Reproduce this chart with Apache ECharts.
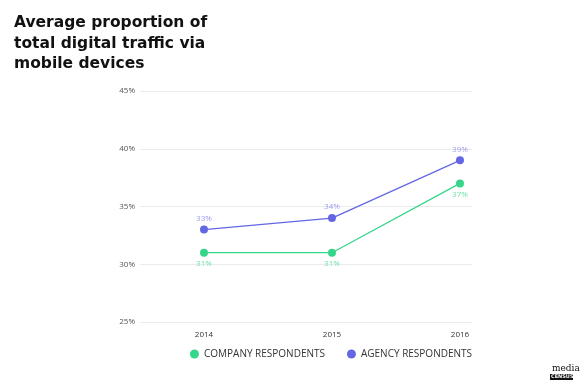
<!DOCTYPE html>
<html><head><meta charset="utf-8">
<script src="https://cdn.jsdelivr.net/npm/echarts@6/dist/echarts.min.js"></script>
<style>html,body{margin:0;padding:0;background:#fff}#c{width:580px;height:385px}</style>
</head><body><div id="c"></div>
<script>
const years = [2014, 2015, 2016];
const company = [31, 31, 37];
const agency = [33, 34, 39];
const yTicks = [25, 30, 35, 40, 45];
const titleText = 'Average proportion of\ntotal digital traffic via\nmobile devices';
const seriesNames = ['COMPANY RESPONDENTS', 'AGENCY RESPONDENTS'];

const chart = echarts.init(document.getElementById('c'));
chart.setOption({
  animation: false,
  backgroundColor: '#fff',
  title: {
    text: titleText, left: 9, top: 8,
    textStyle: { fontFamily: 'DejaVu Sans', fontWeight: 'bold', fontSize: 15.5, lineHeight: 20.5, color: '#111' }
  },
  legend: {
    bottom: 21, right: 103, itemGap: 22, itemWidth: 9, itemHeight: 9, icon: 'circle',
    data: seriesNames,
    textStyle: { fontFamily: 'Open Sans', fontSize: 10, color: '#333' }
  },
  grid: { left: 140, right: 108, top: 91, bottom: 63 },
  xAxis: {
    type: 'value', min: 2013.5, max: 2016.094,
    axisLine: { show: false }, axisTick: { show: false }, splitLine: { show: false },
    axisLabel: { customValues: years, formatter: v => String(v), fontFamily: 'Open Sans', fontSize: 8, color: '#333', margin: 9 }
  },
  yAxis: {
    type: 'value', min: yTicks[0], max: yTicks[yTicks.length - 1], interval: 5,
    axisLine: { show: false }, axisTick: { show: false },
    splitLine: { lineStyle: { color: '#ebebeb', width: 1 } },
    axisLabel: { formatter: '{value}%', fontFamily: 'Open Sans', fontSize: 8, color: '#555', margin: 5 }
  },
  series: [
    {
      name: seriesNames[0], type: 'line', symbol: 'circle', symbolSize: 8,
      data: years.map((y, i) => [y, company[i]]),
      itemStyle: { color: '#36d68a' }, lineStyle: { color: '#36d68a', width: 1.3 },
      label: { show: true, position: 'bottom', distance: 3, formatter: p => p.value[1] + '%', fontFamily: 'Open Sans', fontSize: 8, color: '#6fe3a8' }
    },
    {
      name: seriesNames[1], type: 'line', symbol: 'circle', symbolSize: 8,
      data: years.map((y, i) => [y, agency[i]]),
      itemStyle: { color: '#6467e4' }, lineStyle: { color: '#6467e4', width: 1.3 },
      label: { show: true, position: 'top', distance: 3, formatter: p => p.value[1] + '%', fontFamily: 'Open Sans', fontSize: 8, color: '#9a9cf0' }
    }
  ],
  graphic: [
    { type: 'text', left: 552, top: 364, style: { text: 'media', font: '9px "DejaVu Serif"', fill: '#111' } },
    { type: 'rect', left: 550, top: 374, shape: { width: 23, height: 6 }, style: { fill: '#111' } },
    { type: 'text', left: 551, top: 374, style: { text: 'CENSUS', font: 'bold 5px "DejaVu Sans"', fill: '#fff' } }
  ]
});
</script></body></html>
